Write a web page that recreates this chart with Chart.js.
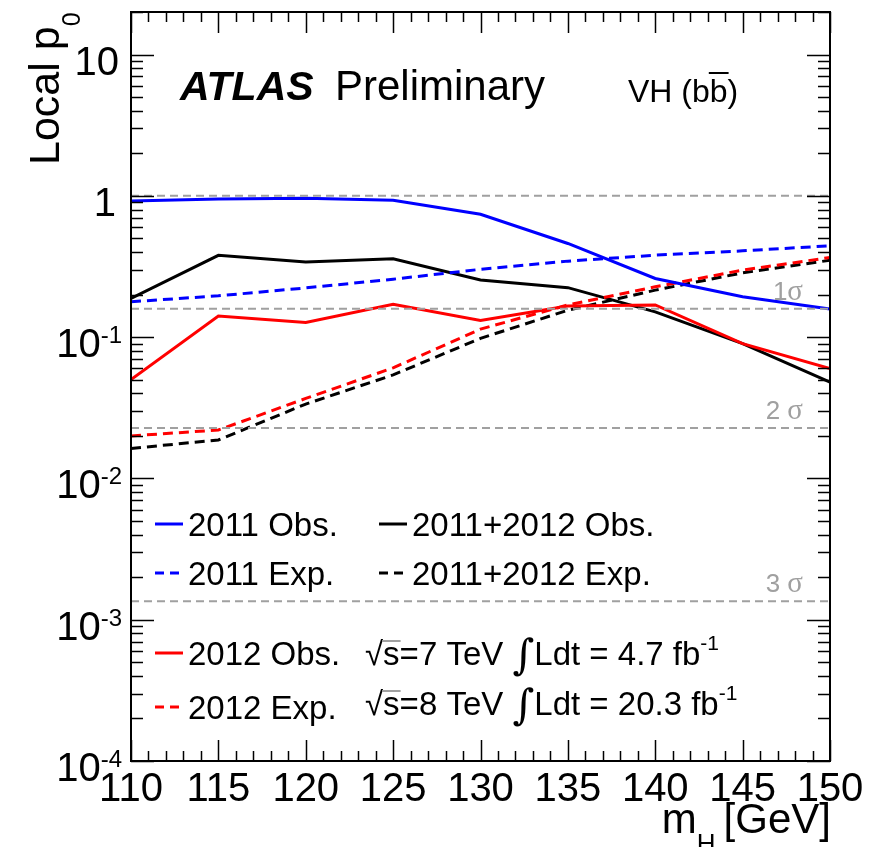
<!DOCTYPE html>
<html>
<head>
<meta charset="utf-8">
<script src="https://cdn.jsdelivr.net/npm/chart.js@4.4.1/dist/chart.umd.min.js"></script>
<style>
  html, body { margin: 0; padding: 0; background: #fff; }
  canvas { display: block; }
</style>
</head>
<body>
<canvas id="chart" width="878" height="847"></canvas>
<script>
const MASS = [110, 115, 120, 125, 130, 135, 140, 145, 150];

const OBS_2011 = [0.92, 0.95, 0.96, 0.93, 0.74, 0.46, 0.26, 0.193, 0.158];
const EXP_2011 = [0.178, 0.196, 0.223, 0.257, 0.302, 0.345, 0.38, 0.408, 0.443];
const OBS_2012 = [0.050, 0.141, 0.127, 0.171, 0.131, 0.166, 0.169, 0.090, 0.060];
const EXP_2012 = [0.020, 0.022, 0.0368, 0.0606, 0.114, 0.169, 0.227, 0.298, 0.366];
const OBS_COMB = [0.188, 0.379, 0.34, 0.358, 0.254, 0.224, 0.151, 0.090, 0.048];
const EXP_COMB = [0.0163, 0.0187, 0.0336, 0.054, 0.098, 0.155, 0.215, 0.285, 0.35];

// gray reference lines: p0 = 1 and the 1, 2, 3 sigma levels
const SIGMA_P = [1, 0.1587, 0.02275, 0.00135];
const SIGMA_LABELS = ["", "1σ", "2 σ", "3 σ"];

const X_TICKS = [110, 115, 120, 125, 130, 135, 140, 145, 150];
const Y_TICKS = [10, 1, 0.1, 0.01, 0.001, 0.0001];
const Y_TICK_LABELS = [["10", ""], ["1", ""], ["10", "-1"], ["10", "-2"], ["10", "-3"], ["10", "-4"]];

const SANS = "'Liberation Sans', Arial, Helvetica, sans-serif";
const SERIF = "'Liberation Serif', 'DejaVu Serif', serif";
const GRAY = "#a0a0a0";
const DASH = [10, 6];

function pts(vals) {
  return MASS.map((m, i) => ({ x: m, y: vals[i] }));
}

const sigmaSets = SIGMA_P.map(p => ({
  data: [{ x: MASS[0], y: p }, { x: MASS[MASS.length - 1], y: p }],
  borderColor: GRAY, borderWidth: 2, borderDash: [8, 5]
}));

const series = [
  { label: "2011 Obs.", data: pts(OBS_2011), color: "#0000ff", dash: [] },
  { label: "2011 Exp.", data: pts(EXP_2011), color: "#0000ff", dash: DASH },
  { label: "2012 Obs.", data: pts(OBS_2012), color: "#ff0000", dash: [] },
  { label: "2012 Exp.", data: pts(EXP_2012), color: "#ff0000", dash: DASH },
  { label: "2011+2012 Obs.", data: pts(OBS_COMB), color: "#000000", dash: [] },
  { label: "2011+2012 Exp.", data: pts(EXP_COMB), color: "#000000", dash: DASH }
];

// draw a run of text pieces with different fonts / offsets
function drawRun(ctx, x, y, parts) {
  parts.forEach(p => {
    ctx.font = p.font;
    ctx.fillText(p.t, x, y + (p.dy || 0));
    const w = ctx.measureText(p.t).width;
    if (p.over) {
      ctx.save();
      ctx.lineWidth = 2;
      ctx.beginPath();
      ctx.moveTo(x - 1, y + p.over);
      ctx.lineTo(x + w + 1, y + p.over);
      ctx.stroke();
      ctx.restore();
    }
    x += w + (p.gap || 0);
  });
  return x;
}

const decor = {
  id: "decor",
  afterDraw(chart) {
    const ctx = chart.ctx;
    const a = chart.chartArea;
    const xs = chart.scales.x, ys = chart.scales.y;
    ctx.save();
    ctx.fillStyle = "#000";
    ctx.strokeStyle = "#000";

    // frame
    ctx.lineWidth = 2;
    ctx.strokeRect(a.left, a.top, a.right - a.left, a.bottom - a.top);

    // y ticks (log, left and right)
    ctx.lineWidth = 1.5;
    ctx.beginPath();
    for (let d = -4; d <= 1; d++) {
      for (let k = 1; k <= 9; k++) {
        const v = k * Math.pow(10, d);
        if (v < 1e-4 || v > 20) continue;
        const py = Math.round(ys.getPixelForValue(v)) + 0.5;
        const len = k === 1 ? 23 : 12;
        ctx.moveTo(a.left, py); ctx.lineTo(a.left + len, py);
        ctx.moveTo(a.right, py); ctx.lineTo(a.right - len, py);
      }
    }
    // x ticks (bottom and top)
    for (let m = 110; m <= 150; m++) {
      const px = Math.round(xs.getPixelForValue(m)) + 0.5;
      const len = m % 5 === 0 ? 21 : 10;
      ctx.moveTo(px, a.bottom); ctx.lineTo(px, a.bottom - len);
      ctx.moveTo(px, a.top); ctx.lineTo(px, a.top + len);
    }
    ctx.stroke();

    // y tick labels
    ctx.textBaseline = "alphabetic";
    Y_TICKS.forEach((v, i) => {
      const py = ys.getPixelForValue(v);
      const [base, exp] = Y_TICK_LABELS[i];
      let right = 119;
      ctx.textAlign = "right";
      if (exp) {
        ctx.font = "24px " + SANS;
        ctx.fillText(exp, 122, py + 6);
        right = 122 - ctx.measureText(exp).width;
      } else if (base === "1") {
        right = 116;
      }
      ctx.font = "40px " + SANS;
      ctx.fillText(base, right, py + 20);
    });

    // x tick labels
    ctx.textAlign = "center";
    ctx.font = "40px " + SANS;
    X_TICKS.forEach(m => ctx.fillText(String(m), xs.getPixelForValue(m), 801));

    // x title: m_H [GeV]
    ctx.textAlign = "left";
    ctx.font = "42px " + SANS;
    const wG = ctx.measureText("[GeV]").width;
    const wm = ctx.measureText("m").width;
    ctx.font = "26px " + SANS;
    const wH = ctx.measureText("H").width;
    const xG = 831 - wG;
    const xH = xG - 8 - wH;
    const xm = xH - wm;
    ctx.font = "42px " + SANS;
    ctx.fillText("m", xm, 833);
    ctx.fillText("[GeV]", xG, 833);
    ctx.font = "26px " + SANS;
    ctx.fillText("H", xH, 852);

    // y title: Local p_0
    ctx.save();
    ctx.translate(59, 165);
    ctx.rotate(-Math.PI / 2);
    ctx.font = "43px " + SANS;
    ctx.fillText("Local p", 0, 0);
    const wl = ctx.measureText("Local p").width;
    ctx.font = "25px " + SANS;
    ctx.fillText("0", wl, 21);
    ctx.restore();

    // ATLAS Preliminary
    ctx.font = "italic bold 41px " + SANS;
    ctx.fillText("ATLAS", 180, 100);
    ctx.font = "42px " + SANS;
    ctx.fillText("Preliminary", 335, 100);

    // VH (bb̄)
    drawRun(ctx, 628, 102, [
      { t: "VH (b", font: "32px " + SANS },
      { t: "b", font: "32px " + SANS, over: -29 },
      { t: ")", font: "32px " + SANS }
    ]);

    // sigma labels
    ctx.fillStyle = GRAY;
    ctx.strokeStyle = GRAY;
    SIGMA_P.forEach((p, i) => {
      const lab = SIGMA_LABELS[i];
      if (!lab) return;
      const py = ys.getPixelForValue(p) - 9;
      const num = lab.slice(0, lab.length - 1);
      ctx.font = "26px " + SANS;
      const wn = ctx.measureText(num).width;
      ctx.font = "29px " + SERIF;
      const ws = ctx.measureText("σ").width;
      const x0 = 803 - ws - wn;
      ctx.font = "26px " + SANS;
      ctx.fillText(num, x0, py);
      ctx.font = "29px " + SERIF;
      ctx.fillText("σ", x0 + wn, py);
    });

    // legend
    ctx.fillStyle = "#000";
    const LF = "33px " + SANS;
    const entries = [
      [series[0], 155, 524], [series[1], 155, 573],
      [series[2], 155, 653], [series[3], 155, 707],
      [series[4], 379, 524], [series[5], 379, 573]
    ];
    entries.forEach(([s, x, y]) => {
      ctx.save();
      ctx.strokeStyle = s.color;
      ctx.lineWidth = 3;
      ctx.setLineDash(s.dash.length ? [9, 6] : []);
      ctx.beginPath();
      ctx.moveTo(x, y);
      ctx.lineTo(x + 28, y);
      ctx.stroke();
      ctx.restore();
      ctx.font = LF;
      ctx.fillText(s.label, x + 33, y + 12);
    });

    // energy / luminosity lines
    const INT = "42px 'DejaVu Serif', serif";
    drawRun(ctx, 365, 665, [
      { t: "√", font: LF },
      { t: "s", font: LF, over: -24 },
      { t: "=7 TeV ", font: LF },
      { t: "∫", font: INT, dy: 4 },
      { t: "Ldt = 4.7 fb", font: LF },
      { t: "-1", font: "21px " + SANS, dy: -15 }
    ]);
    drawRun(ctx, 365, 715, [
      { t: "√", font: LF },
      { t: "s", font: LF, over: -24 },
      { t: "=8 TeV ", font: LF },
      { t: "∫", font: INT, dy: 4 },
      { t: "Ldt = 20.3 fb", font: LF },
      { t: "-1", font: "21px " + SANS, dy: -15 }
    ]);

    ctx.restore();
  }
};

new Chart(document.getElementById("chart"), {
  type: "line",
  data: {
    datasets: [
      ...sigmaSets,
      ...series.map(s => ({
        label: s.label,
        data: s.data,
        borderColor: s.color,
        borderWidth: 3,
        borderDash: s.dash
      }))
    ]
  },
  options: {
    responsive: false,
    animation: false,
    layout: { padding: { left: 131, right: 48, top: 12, bottom: 86 } },
    elements: { point: { radius: 0 }, line: { tension: 0, fill: false } },
    scales: {
      x: { type: "linear", min: 110, max: 150, display: false },
      y: { type: "logarithmic", min: 0.0001, max: 20, display: false }
    },
    plugins: { legend: { display: false }, tooltip: { enabled: false } }
  },
  plugins: [decor]
});
</script>
</body>
</html>
